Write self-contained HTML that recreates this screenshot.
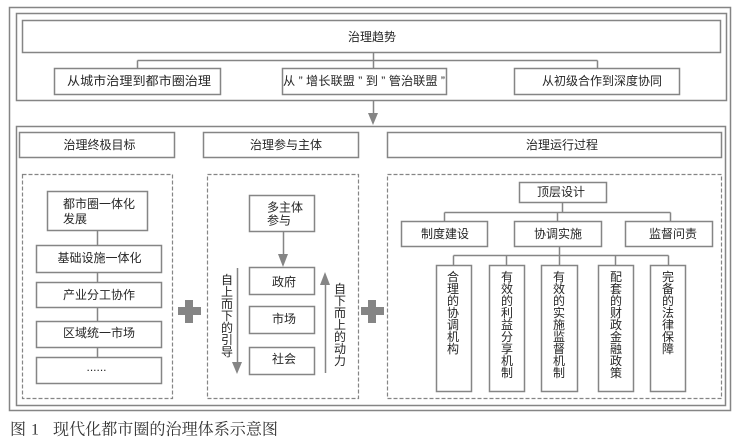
<!DOCTYPE html>
<html>
<head>
<meta charset="utf-8">
<style>
  html,body{margin:0;padding:0;background:#fff;}
  svg{display:block;}
  .t{font-family:"Liberation Sans","Noto Sans CJK SC",sans-serif;font-size:12px;fill:#262626;}
  .c{font-family:"Liberation Serif","Noto Serif CJK SC",serif;font-size:16px;fill:#333;}
</style>
</head>
<body>
<svg width="743" height="442" viewBox="0 0 743 442" xmlns="http://www.w3.org/2000/svg">
  <g fill="none" stroke="#858585" stroke-width="1.5">
    <!-- frames -->
    <rect x="9.5" y="7.5" width="721" height="403"/>
    <rect x="16.5" y="13.5" width="710" height="87"/>
    <rect x="22.5" y="20.5" width="698" height="32"/>
    <!-- top connectors -->
    <path d="M373.5 52.5 V60.5 M137.5 60.5 H597.5 M137.5 60.5 V68.5 M373.5 60.5 V68.5 M597.5 60.5 V68.5"/>
    <rect x="54.5" y="68.5" width="166" height="26"/>
    <rect x="282.5" y="68.5" width="164" height="26"/>
    <rect x="514.5" y="68.5" width="165" height="26"/>
    <path d="M373.5 100.5 V114"/>
    <!-- second frame -->
    <rect x="16.5" y="126.5" width="709" height="279"/>
    <rect x="19.5" y="132.5" width="155" height="25"/>
    <rect x="203.5" y="132.5" width="155" height="25"/>
    <rect x="387.5" y="132.5" width="334" height="25"/>
    <!-- left column -->
    <rect x="47.5" y="191.5" width="100" height="39"/>
    <rect x="36.5" y="245.5" width="125" height="27"/>
    <rect x="36.5" y="282.5" width="125" height="25"/>
    <rect x="36.5" y="321.5" width="125" height="26"/>
    <rect x="36.5" y="357.5" width="125" height="26"/>
    <path d="M97.5 230.5 V245.5 M97.5 272.5 V282.5 M97.5 307.5 V321.5 M97.5 347.5 V357.5"/>
    <!-- middle column -->
    <rect x="249.5" y="195.5" width="65" height="36"/>
    <rect x="249.5" y="267.5" width="65" height="27"/>
    <rect x="249.5" y="306.5" width="65" height="27"/>
    <rect x="249.5" y="347.5" width="65" height="27"/>
    <path d="M283.5 231.5 V255 M237.5 268 V363 M325.5 284 V373"/>
    <!-- right column -->
    <rect x="519.5" y="182.5" width="87" height="20"/>
    <path d="M562.5 202.5 V212.5 M444.5 212.5 H670.5 M444.5 212.5 V221.5 M557.5 212.5 V221.5 M670.5 212.5 V221.5"/>
    <rect x="401.5" y="221.5" width="86" height="25"/>
    <rect x="514.5" y="221.5" width="87" height="25"/>
    <rect x="625.5" y="221.5" width="87" height="25"/>
    <path d="M559.5 246.5 V255.5 M453.5 255.5 H668.5 M453.5 255.5 V265.5 M506.5 255.5 V265.5 M559.5 255.5 V265.5 M615.5 255.5 V265.5 M668.5 255.5 V265.5"/>
    <rect x="436.5" y="265.5" width="35" height="126"/>
    <rect x="489.5" y="265.5" width="35" height="126"/>
    <rect x="541.5" y="265.5" width="36" height="126"/>
    <rect x="598.5" y="265.5" width="35" height="126"/>
    <rect x="650.5" y="265.5" width="35" height="126"/>
  </g>
  <!-- dashed boxes -->
  <g fill="none" stroke="#858585" stroke-width="1.2" stroke-dasharray="4 2">
    <rect x="22.5" y="174.5" width="150" height="224"/>
    <rect x="207.5" y="174.5" width="151" height="224"/>
    <rect x="387.5" y="174.5" width="334" height="224"/>
  </g>
  <!-- arrowheads -->
  <g fill="#858585">
    <polygon points="368,113 378,113 373,125"/>
    <polygon points="278,254 288,254 283,267"/>
    <polygon points="232,362 242,362 237,374"/>
    <polygon points="320,285 330,285 325,272"/>
    <!-- plus signs -->
    <rect x="178" y="307" width="23" height="8"/>
    <rect x="185" y="300" width="8" height="23"/>
    <rect x="361" y="307" width="23" height="8"/>
    <rect x="368" y="300" width="8" height="23"/>
  </g>

  <!-- texts -->
  <g class="t" text-anchor="middle" dominant-baseline="central">
    <text x="372" y="37">治理趋势</text>
    <text x="139" y="81" textLength="144" lengthAdjust="spacingAndGlyphs">从城市治理到都市圈治理</text>
    <text x="364" y="81" textLength="162" lengthAdjust="spacingAndGlyphs">从 ” 增长联盟 ” 到 ” 管治联盟 ”</text>
    <text x="602" y="81" textLength="120" lengthAdjust="spacingAndGlyphs">从初级合作到深度协同</text>

    <text x="99.5" y="145">治理终极目标</text>
    <text x="286" y="145">治理参与主体</text>
    <text x="562" y="145">治理运行过程</text>

    <text x="99.5" y="258">基础设施一体化</text>
    <text x="99" y="295">产业分工协作</text>
    <text x="99" y="333">区域统一市场</text>

    <text x="284" y="282">政府</text>
    <text x="284" y="319">市场</text>
    <text x="284" y="359">社会</text>

    <text x="561" y="192">顶层设计</text>
    <text x="445" y="234">制度建设</text>
    <text x="558" y="234">协调实施</text>
    <text x="673" y="234">监督问责</text>
  </g>
  <g class="t" dominant-baseline="central">
    <text x="63" y="204">都市圈一体化</text>
    <text x="63" y="219">发展</text>
    <text x="267" y="207.5">多主体</text>
    <text x="267" y="220.5">参与</text>
  </g>
  <text x="96.5" y="371" text-anchor="middle" style="font-family:'Liberation Sans',sans-serif;font-size:12px;fill:#262626;">......</text>

  <!-- vertical texts -->
  <g class="t" text-anchor="middle" dominant-baseline="central">
    <text><tspan x="227" y="280">自</tspan><tspan x="227" y="292">上</tspan><tspan x="227" y="304">而</tspan><tspan x="227" y="316">下</tspan><tspan x="227" y="328">的</tspan><tspan x="227" y="340">引</tspan><tspan x="227" y="352">导</tspan></text>
    <text><tspan x="340" y="289">自</tspan><tspan x="340" y="301">下</tspan><tspan x="340" y="313">而</tspan><tspan x="340" y="325">上</tspan><tspan x="340" y="337">的</tspan><tspan x="340" y="349">动</tspan><tspan x="340" y="361">力</tspan></text>

    <text><tspan x="453" y="277">合</tspan><tspan x="453" y="289">理</tspan><tspan x="453" y="301">的</tspan><tspan x="453" y="313">协</tspan><tspan x="453" y="325">调</tspan><tspan x="453" y="337">机</tspan><tspan x="453" y="349">构</tspan></text>
    <text><tspan x="507" y="277">有</tspan><tspan x="507" y="289">效</tspan><tspan x="507" y="301">的</tspan><tspan x="507" y="313">利</tspan><tspan x="507" y="325">益</tspan><tspan x="507" y="337">分</tspan><tspan x="507" y="349">享</tspan><tspan x="507" y="361">机</tspan><tspan x="507" y="373">制</tspan></text>
    <text><tspan x="559" y="277">有</tspan><tspan x="559" y="289">效</tspan><tspan x="559" y="301">的</tspan><tspan x="559" y="313">实</tspan><tspan x="559" y="325">施</tspan><tspan x="559" y="337">监</tspan><tspan x="559" y="349">督</tspan><tspan x="559" y="361">机</tspan><tspan x="559" y="373">制</tspan></text>
    <text><tspan x="616" y="277">配</tspan><tspan x="616" y="289">套</tspan><tspan x="616" y="301">的</tspan><tspan x="616" y="313">财</tspan><tspan x="616" y="325">政</tspan><tspan x="616" y="337">金</tspan><tspan x="616" y="349">融</tspan><tspan x="616" y="361">政</tspan><tspan x="616" y="373">策</tspan></text>
    <text><tspan x="668" y="277">完</tspan><tspan x="668" y="289">备</tspan><tspan x="668" y="301">的</tspan><tspan x="668" y="313">法</tspan><tspan x="668" y="325">律</tspan><tspan x="668" y="337">保</tspan><tspan x="668" y="349">障</tspan></text>
  </g>

  <!-- caption -->
  <g class="c" dominant-baseline="central">
    <text x="10" y="430">图</text>
    <text x="31" y="430">1</text>
    <text x="53" y="430" textLength="225" lengthAdjust="spacingAndGlyphs">现代化都市圈的治理体系示意图</text>
  </g>
</svg>
</body>
</html>
